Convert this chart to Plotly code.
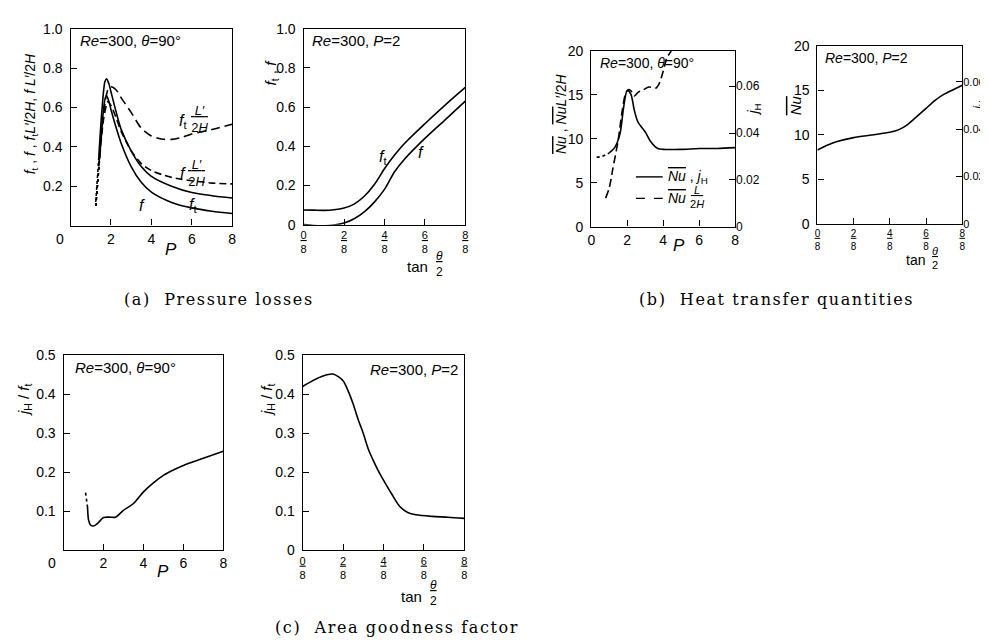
import plotly.graph_objects as go

W, H = 988, 641

# ---------------- data ----------------
# (a) left: Re=300, theta=90deg, vs P
P_a = [1.25, 1.4, 1.55, 1.7, 1.78, 1.9, 2.0, 2.25, 2.5, 3.0, 3.5, 4.0, 5.0, 6.0, 7.0, 8.0]
ft_a = [0.12, 0.35, 0.58, 0.73, 0.745, 0.72, 0.68, 0.58, 0.49, 0.38, 0.30, 0.25, 0.20, 0.168, 0.152, 0.14]
f_a = [0.10, 0.30, 0.50, 0.64, 0.66, 0.63, 0.59, 0.50, 0.42, 0.30, 0.22, 0.17, 0.118, 0.09, 0.073, 0.062]
P_a2 = [1.25, 1.45, 1.65, 1.85, 2.0, 2.25, 2.5, 3.0, 3.5, 4.0, 4.5, 5.0, 5.5, 6.0, 7.0, 8.0]
fL_a = [0.10, 0.35, 0.55, 0.63, 0.61, 0.55, 0.48, 0.38, 0.315, 0.28, 0.26, 0.245, 0.235, 0.228, 0.216, 0.212]
ftL_a = [0.10, 0.36, 0.58, 0.69, 0.705, 0.69, 0.65, 0.575, 0.495, 0.455, 0.44, 0.438, 0.448, 0.465, 0.488, 0.515]

# (a) right: Re=300, P=2, vs tan(theta/2)
T_a = [0, 0.0625, 0.125, 0.1875, 0.25, 0.3125, 0.375, 0.4375, 0.5, 0.5625, 0.625, 0.75, 0.875, 1.0]
ft_b = [0.075, 0.074, 0.073, 0.076, 0.085, 0.105, 0.145, 0.205, 0.285, 0.355, 0.415, 0.515, 0.61, 0.70]
f_b = [0.0, -0.004, -0.006, -0.002, 0.008, 0.03, 0.065, 0.115, 0.18, 0.27, 0.335, 0.44, 0.535, 0.63]

# (b) left: Nu and Nu L'/2H vs P
P_nu = [0.3, 0.6, 1.0, 1.3, 1.6, 1.8, 2.0, 2.2, 2.4, 2.6, 3.0, 3.3, 3.7, 4.0, 5.0, 6.0, 7.0, 8.0]
Nu_b = [7.9, 8.0, 8.4, 9.0, 10.6, 13.6, 15.5, 15.1, 13.2, 11.9, 10.8, 9.7, 8.9, 8.8, 8.8, 8.9, 8.9, 9.0]
P_nuL = [0.8, 1.0, 1.2, 1.5, 1.7, 1.9, 2.05, 2.2, 2.4, 2.6, 2.9, 3.2, 3.6, 3.8, 4.0, 4.2, 4.45]
NuL_b = [3.25, 4.4, 6.6, 9.9, 12.9, 15.1, 15.6, 15.5, 14.9, 15.3, 15.6, 15.9, 15.8, 16.4, 17.7, 19.2, 20.0]

# (b) right: Nu vs tan(theta/2)
T_nu = [0, 0.0625, 0.125, 0.25, 0.375, 0.5, 0.5625, 0.625, 0.6875, 0.75, 0.8125, 0.875, 0.9375, 1.0]
Nu_c = [8.3, 8.8, 9.2, 9.7, 10.0, 10.3, 10.6, 11.2, 12.1, 13.0, 13.9, 14.6, 15.1, 15.6]

# (c) left: jH/ft vs P
P_g = [1.1, 1.2, 1.25, 1.35, 1.5, 1.7, 2.0, 2.3, 2.6, 3.0, 3.5, 4.0, 4.5, 5.0, 5.5, 6.0, 7.0, 8.0]
g_a = [0.148, 0.111, 0.078, 0.065, 0.0625, 0.069, 0.084, 0.085, 0.085, 0.1025, 0.12, 0.15, 0.173, 0.192, 0.206, 0.2175, 0.236, 0.254]

# (c) right: jH/ft vs tan(theta/2)
T_g = [0, 0.0625, 0.125, 0.1875, 0.25, 0.28, 0.3125, 0.344, 0.375, 0.406, 0.4375, 0.469, 0.5, 0.55, 0.6, 0.65, 0.7, 0.8, 0.9, 1.0]
g_b = [0.42, 0.435, 0.447, 0.452, 0.435, 0.41, 0.375, 0.335, 0.3, 0.26, 0.23, 0.203, 0.18, 0.145, 0.113, 0.097, 0.091, 0.087, 0.085, 0.082]

P_ticks = [0, 2, 4, 6, 8]
T_ticks = [0, 0.25, 0.5, 0.75, 1.0]
T_ticktext = ["<u>0</u><br>8", "<u>2</u><br>8", "<u>4</u><br>8", "<u>6</u><br>8", "<u>8</u><br>8"]

# ---------------- layout helpers ----------------
FONT = "Liberation Sans"
SERIF = "DejaVu Serif"


def xd(x0, x1):
    return [x0 / W, x1 / W]


def yd(y0, y1):
    return [1 - y1 / H, 1 - y0 / H]


def px(x, y):
    return x / W, 1 - y / H


def tf(size):
    return dict(family=FONT, size=size, color="black")


base = dict(showline=True, linecolor="black", linewidth=1.3, mirror=True,
            ticks="inside", ticklen=6, tickwidth=1.2, tickcolor="black",
            showgrid=False, zeroline=False, tickfont=tf(14))

fig = go.Figure()
LW = 1.6


def line(x, y, xa, ya, dash="solid", width=LW):
    fig.add_trace(go.Scatter(x=x, y=y, xaxis=xa, yaxis=ya, mode="lines",
                             line=dict(color="black", width=width, dash=dash, shape="spline", smoothing=0.8),
                             showlegend=False, hoverinfo="skip"))


# (a) left
line(P_a[:2], ft_a[:2], "x", "y", "dot")
line(P_a[1:], ft_a[1:], "x", "y")
line(P_a[:2], f_a[:2], "x", "y", "dot")
line(P_a[1:], f_a[1:], "x", "y")
line(P_a2[:2], fL_a[:2], "x", "y", "dot")
line(P_a2[1:], fL_a[1:], "x", "y", "7px,4px")
line(P_a2[:2], ftL_a[:2], "x", "y", "dot")
line(P_a2[1:], ftL_a[1:], "x", "y", "9px,5px")
# (a) right
line(T_a, ft_b, "x2", "y2")
line(T_a, f_b, "x2", "y2")
# (b) left
line(P_nu[:3], Nu_b[:3], "x3", "y3", "dot")
line(P_nu[2:], Nu_b[2:], "x3", "y3")
line(P_nuL, NuL_b, "x3", "y3", "8px,4px")
# (b) right
line(T_nu, Nu_c, "x4", "y5")
# (c) left
line(P_g[:2], g_a[:2], "x5", "y7", "dot")
line(P_g[1:], g_a[1:], "x5", "y7")
# (c) right
line(T_g, g_b, "x6", "y8")

layout = dict(width=W, height=H, margin=dict(l=0, r=0, t=0, b=0),
              paper_bgcolor="white", plot_bgcolor="white", showlegend=False)

# A1
layout["xaxis"] = dict(base, domain=xd(59, 222), range=[0, 8], tickvals=P_ticks,
                       ticktext=["", "2", "4", "6", "8"], anchor="y")
layout["yaxis"] = dict(base, domain=yd(13, 215), range=[0, 1.0], tickvals=[0.2, 0.4, 0.6, 0.8, 1.0],
                       ticktext=["0.2", "0.4", "0.6", "0.8", "1.0"], anchor="x", ticklabelstandoff=4)
# A2
layout["xaxis2"] = dict(base, domain=xd(294, 457), range=[0, 1], tickvals=T_ticks,
                        ticktext=T_ticktext, anchor="y2", tickfont=tf(11))
layout["yaxis2"] = dict(base, domain=yd(13, 214), range=[0, 1.0], tickvals=[0, 0.2, 0.4, 0.6, 0.8, 1.0],
                        ticktext=["0", "0.2", "0.4", "0.6", "0.8", "1.0"], anchor="x2", ticklabelstandoff=4)
# B1
layout["xaxis3"] = dict(base, domain=xd(584, 729), range=[0, 8], tickvals=P_ticks,
                        ticktext=["0", "2", "4", "6", "8"], anchor="y3")
layout["yaxis3"] = dict(base, domain=yd(36, 216), range=[0, 20], tickvals=[0, 5, 10, 15, 20], anchor="x3",
                        ticklabelstandoff=4)
layout["yaxis4"] = dict(base, domain=yd(36, 216), range=[0, 0.075], tickvals=[0, 0.02, 0.04, 0.06],
                        ticktext=["0", "0.02", "0.04", "0.06"], overlaying="y3", side="right",
                        anchor="x3", mirror=False, showline=False, tickfont=tf(12))
# B2
layout["xaxis4"] = dict(base, domain=xd(812, 958), range=[0, 1], tickvals=T_ticks,
                        ticktext=T_ticktext, anchor="y5", tickfont=tf(10))
layout["yaxis5"] = dict(base, domain=yd(31, 213), range=[0, 20], tickvals=[0, 5, 10, 15, 20], anchor="x4",
                        ticklabelstandoff=4)
layout["yaxis6"] = dict(base, domain=yd(31, 213), range=[0, 0.075], tickvals=[0, 0.02, 0.04, 0.06],
                        ticktext=["0", "0.02", "0.04", "0.06"], overlaying="y5", side="right",
                        anchor="x4", mirror=False, showline=False, tickfont=tf(11))
# C1
layout["xaxis5"] = dict(base, domain=xd(52, 213), range=[0, 8], tickvals=P_ticks,
                        ticktext=["", "2", "4", "6", "8"], anchor="y7")
layout["yaxis7"] = dict(base, domain=yd(348, 548), range=[0, 0.5], tickvals=[0.1, 0.2, 0.3, 0.4, 0.5],
                        ticktext=["0.1", "0.2", "0.3", "0.4", "0.5"], anchor="x5", ticklabelstandoff=4)
# C2
layout["xaxis6"] = dict(base, domain=xd(293, 456), range=[0, 1], tickvals=T_ticks,
                        ticktext=T_ticktext, anchor="y8", tickfont=tf(11))
layout["yaxis8"] = dict(base, domain=yd(348, 548), range=[0, 0.5], tickvals=[0, 0.1, 0.2, 0.3, 0.4, 0.5],
                        ticktext=["0", "0.1", "0.2", "0.3", "0.4", "0.5"], anchor="x6", ticklabelstandoff=4)

fig.update_layout(**layout)
fig.add_trace(go.Scatter(x=[None], y=[None], xaxis="x3", yaxis="y4", showlegend=False))
fig.add_trace(go.Scatter(x=[None], y=[None], xaxis="x4", yaxis="y6", showlegend=False))

ann = []


def txt(x, y, s, size=13, xanchor="center", yanchor="middle", angle=0, family=FONT, align="center"):
    ax, ay = px(x, y)
    ann.append(dict(x=ax, y=ay, xref="paper", yref="paper", text=s, showarrow=False,
                    xanchor=xanchor, yanchor=yanchor, textangle=angle, align=align,
                    font=dict(family=family, size=size, color="black")))


def frac(x, y, num, den, size=12, pad=True):
    n = "\u00a0" + num + "\u00a0" if pad else num
    txt(x, y, "<u>" + n + "</u><br>" + den, size=size)


def OL(s):
    return '<span style="text-decoration:overline">' + s + '</span>'


def spaced(s):
    return "\u200a".join(s)


NU = OL("<i>Nu</i>")

# panel annotations
txt(67, 25, "<i>Re</i>=300, <i>θ</i>=90°", size=15, xanchor="left")
txt(300, 25, "<i>Re</i>=300, <i>P</i>=2", size=15, xanchor="left")
txt(591, 48, "<i>Re</i>=300, <i>θ</i>=90°", size=14, xanchor="left")
txt(818, 43, "<i>Re</i>=300, <i>P</i>=2", size=14, xanchor="left")
txt(61, 361, "<i>Re</i>=300, <i>θ</i>=90°", size=15, xanchor="left")
txt(452, 363, "<i>Re</i>=300, <i>P</i>=2", size=15, xanchor="right")

# corner zeros
txt(48, 229, "0", size=14)
txt(40, 561, "0", size=14)

# axis titles
txt(19, 100, "<i>f</i><sub>t</sub> , <i>f</i> , <i>f</i><sub>t</sub><i>L′</i>/2<i>H</i>, <i>f</i> <i>L′</i>/2<i>H</i>",
    size=14, angle=-90)
txt(262, 58, "<i>f</i><sub>t</sub> , <i>f</i>", size=15, angle=-90)
txt(553, 100, NU + " , " + NU + "<i>L′</i>/2<i>H</i>", size=14, angle=-90)
txt(748, 96, "<i>j</i><sub>H</sub>", size=14, angle=-90)
txt(790, 92, NU, size=15, angle=-90)
txt(975, 92, "<i>j</i><sub>H</sub>", size=12, angle=-90)
txt(12, 393, "<i>j</i><sub>H</sub> / <i>f</i><sub>t</sub>", size=15, angle=-90)
txt(257, 393, "<i>j</i><sub>H</sub> / <i>f</i><sub>t</sub>", size=15, angle=-90)

txt(160, 239, "<i>P</i>", size=17)
txt(672, 235, "<i>P</i>", size=17)
txt(152, 570, "<i>P</i>", size=17)
txt(409, 257, "tan", size=15)
frac(431, 254, "<i>θ</i>", "2", size=12, pad=False)
txt(911, 250, "tan", size=14)
frac(931, 248, "<i>θ</i>", "2", size=11, pad=False)
txt(403, 595, "tan", size=15)
frac(425, 592, "<i>θ</i>", "2", size=12, pad=False)

# curve labels
txt(172, 108, "<i>f</i><sub>t</sub>", size=16)
frac(189, 106, "<i>L′</i>", "2<i>H</i>", size=13)
txt(172, 162, "<i>f</i>", size=16)
frac(186, 161, "<i>L′</i>", "2<i>H</i>", size=13)
txt(182, 194, "<i>f</i><sub>t</sub>", size=16)
txt(131, 194, "<i>f</i>", size=16)
txt(374, 145, "<i>f</i><sub>t</sub>", size=16)
txt(412, 140, "<i>f</i>", size=16)

# legend in (b) left
txt(659, 165, NU + " , <i>j</i><sub>H</sub>", size=14, xanchor="left")
txt(659, 187, NU, size=14, xanchor="left")
frac(691, 186, "<i>L</i>", "2<i>H</i>", size=11)

# captions
txt(208, 291, spaced("(a)\u00a0\u00a0Pressure losses"), size=16, family=SERIF)
txt(770, 291, spaced("(b)\u00a0\u00a0Heat transfer quantities"), size=16, family=SERIF)
txt(388, 627, spaced("(c)\u00a0\u00a0Area goodness factor"), size=16, family=SERIF)

shapes = []
for yy, dsh in [(165, "solid"), (187, "dash")]:
    x0, y0 = px(629, yy)
    x1, _ = px(656, yy)
    shapes.append(dict(type="line", xref="paper", yref="paper", x0=x0, x1=x1, y0=y0, y1=y0,
                       line=dict(color="black", width=1.4, dash=dsh)))

fig.update_layout(annotations=ann, shapes=shapes)
fig.write_html("out.html")
